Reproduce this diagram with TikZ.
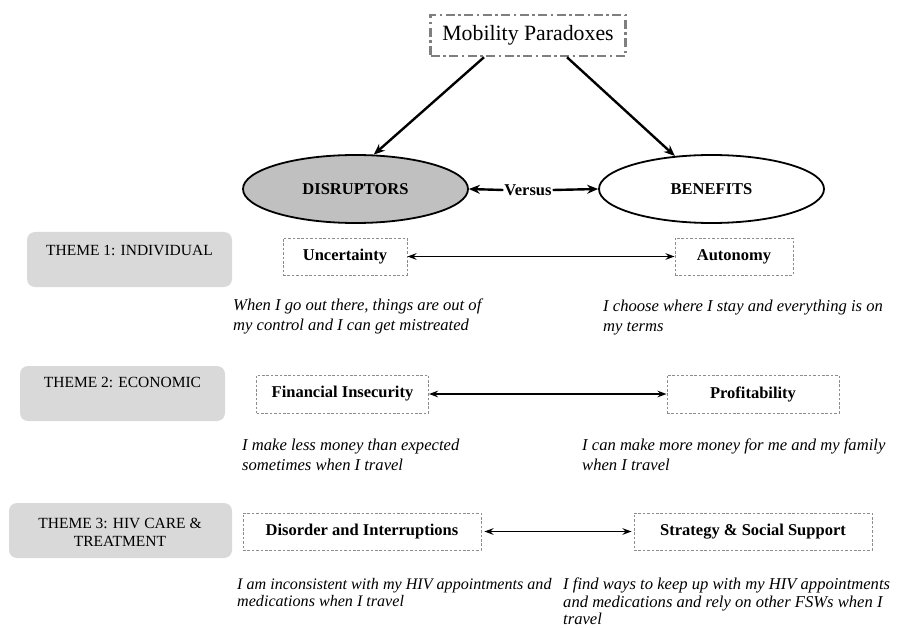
\documentclass[tikz,border=0pt]{standalone}
\usepackage{fontspec}
\setmainfont{Liberation Serif}
\usetikzlibrary{shapes.geometric,arrows.meta}
\definecolor{dashgray}{HTML}{8C8C8C}
\definecolor{mobgray}{HTML}{7F7F7F}
\definecolor{themegray}{HTML}{D9D9D9}
\definecolor{disfill}{HTML}{C0C0C0}
\tikzset{
  dbox/.style={draw=dashgray, line width=0.9pt, dash pattern=on 2.6pt off 1.8pt, inner sep=0pt,
    font=\fontsize{16.5}{19}\selectfont\bfseries},
  quote/.style={font=\fontsize{16.6}{20}\selectfont\itshape, align=left, anchor=north west, inner sep=0pt},
  themebox/.style={fill=themegray, rounded corners=8pt, inner sep=0pt},
  themetxt/.style={font=\fontsize{15.5}{18}\selectfont, align=center, inner sep=0pt},
  ell/.style={ellipse, draw, line width=1.8pt, minimum width=225pt, minimum height=68pt, inner sep=0pt,
    font=\fontsize{16.5}{19}\selectfont\bfseries},
  bigarrow/.style={line width=2.4pt, -{Stealth[length=11pt,width=9pt]}},
  twoarrow/.style={line width=1.5pt, {Stealth[length=9pt,width=6.5pt]}-{Stealth[length=9pt,width=6.5pt]}},
}
\begin{document}
\begin{tikzpicture}[x=1pt,y=-1pt]
\useasboundingbox[fill=white] (0,0) rectangle (915,628);

% top box
\node[draw=mobgray, line width=2.5pt, dash pattern=on 9pt off 3.5pt on 2.5pt off 3.5pt,
      minimum width=195pt, minimum height=41pt, inner sep=0pt,
      font=\fontsize{21.8}{24}\selectfont] (mob) at (528,35.5) {Mobility Paradoxes};

% ellipses
\node[ell, fill=disfill] (dis) at (355.5,189) {DISRUPTORS};
\node[ell] (ben) at (711.5,189) {BENEFITS};
\node[font=\fontsize{16.5}{19}\selectfont\bfseries, inner sep=0pt] (vs) at (528,190) {Versus};

\draw[bigarrow] ([xshift=-44pt]mob.south) -- (dis.62);
\draw[bigarrow] ([xshift=39pt]mob.south) -- (ben.138);
\draw[bigarrow] ([xshift=-1pt]vs.west) -- (dis.east);
\draw[bigarrow] ([xshift=1pt]vs.east) -- (ben.west);

% themes
\node[themebox, minimum width=205pt, minimum height=55pt] (t1) at (129.5,259.5) {};
\node[themetxt, anchor=base] (t1txt) at (129.5,255) {THEME 1: INDIVIDUAL};
\node[themebox, minimum width=205pt, minimum height=55pt] (t2) at (122.5,393.5) {};
\node[themetxt, anchor=base] (t2txt) at (122.5,387) {THEME 2: ECONOMIC};
\node[themebox, minimum width=223pt, minimum height=55pt] (t3) at (120.5,530.5) {};
\node[themetxt] (t3txt) at (120,532) {THEME 3: HIV CARE \&\\TREATMENT};

% row 1
\node[dbox, minimum width=124pt, minimum height=37pt] (unc) at (345,256.5) {Uncertainty};
\node[dbox, minimum width=118pt, minimum height=37pt] (aut) at (734,256.5) {Autonomy};
\draw[twoarrow] (unc.east) -- (aut.west);
\node[quote] (q1) at (233,298.5) {When I go out there, things are out of\\my control and I can get mistreated};
\node[quote] (q2) at (603,299.5) {I choose where I stay and everything is on\\my terms};

% row 2
\node[dbox, minimum width=172pt, minimum height=38pt] (fin) at (342.5,394) {Financial Insecurity};
\node[dbox, minimum width=172pt, minimum height=38pt] (pro) at (753,394) {Profitability};
\draw[twoarrow] (fin.east) -- (pro.west);
\node[quote] (q3) at (242,438.5) {I make less money than expected\\sometimes when I travel};
\node[quote] (q4) at (582,438.5) {I can make more money for me and my family\\when I travel};

% row 3
\node[dbox, minimum width=238pt, minimum height=37pt] (dsr) at (362,531.5) {Disorder and Interruptions};
\node[dbox, minimum width=238pt, minimum height=37pt] (str) at (753,531.5) {Strategy \& Social Support};
\draw[twoarrow] ([xshift=3pt]dsr.east) -- ([xshift=-2pt]str.west);
\node[quote, font=\fontsize{16.1}{17.5}\selectfont\itshape] (q5) at (237,578) {I am inconsistent with my HIV appointments and\\medications when I travel};
\node[quote, font=\fontsize{16.6}{17.5}\selectfont\itshape] (q6) at (563,578) {I find ways to keep up with my HIV appointments\\and medications and rely on other FSWs when I\\travel};
\end{tikzpicture}
\end{document}
